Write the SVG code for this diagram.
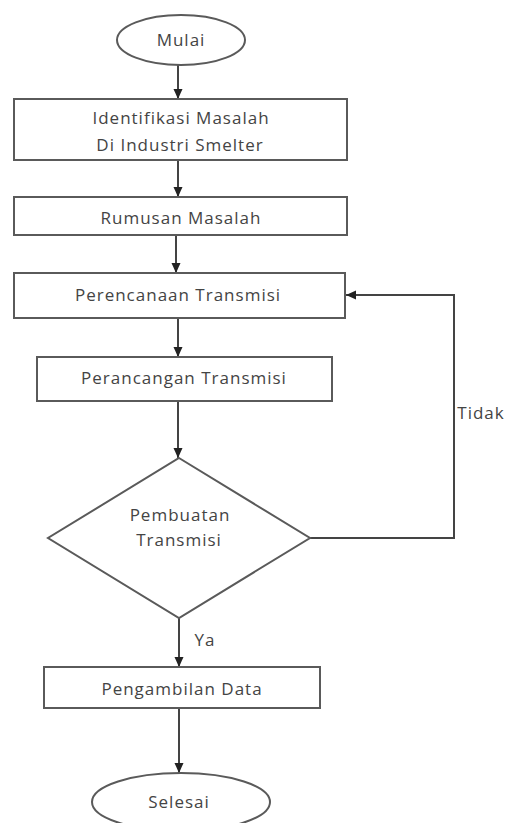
<svg xmlns="http://www.w3.org/2000/svg" width="510" height="823" viewBox="0 0 510 823">
<style>
.s{fill:#fff;stroke:#5a5a5a;stroke-width:2}
.t{font-family:"Open Sans","Liberation Sans",sans-serif;font-size:17px;letter-spacing:1px;fill:#444;text-anchor:middle}
.c{fill:none;stroke:#444;stroke-width:2}
</style>
<defs>
<marker id="ah" markerUnits="userSpaceOnUse" markerWidth="10" markerHeight="10" viewBox="0 0 10 10" refX="10" refY="5" orient="auto">
<path d="M0,0.5 L10,5 L0,9.5 Z" fill="#222"/>
</marker>
</defs>
<rect width="510" height="823" fill="#fff"/>
<g id="connectors">
<line class="c" x1="178" y1="65" x2="178" y2="99" marker-end="url(#ah)"/>
<line class="c" x1="178" y1="160" x2="178" y2="197" marker-end="url(#ah)"/>
<line class="c" x1="176" y1="235" x2="176" y2="273" marker-end="url(#ah)"/>
<line class="c" x1="178" y1="318" x2="178" y2="357" marker-end="url(#ah)"/>
<line class="c" x1="178" y1="401" x2="178" y2="458" marker-end="url(#ah)"/>
<line class="c" x1="179" y1="618" x2="179" y2="667" marker-end="url(#ah)"/>
<line class="c" x1="179" y1="708" x2="179" y2="773" marker-end="url(#ah)"/>
<polyline class="c" points="310,538 454,538 454,295 346,295" marker-end="url(#ah)"/>
<text class="t" x="481" y="419">Tidak</text>
<text class="t" x="205" y="646">Ya</text>
</g>
<g id="mulai"><ellipse class="s" cx="181" cy="40" rx="64" ry="25"/><text class="t" x="181" y="46">Mulai</text></g>
<g id="identifikasi"><rect class="s" x="14" y="99" width="333" height="61"/><text class="t" x="181" y="124">Identifikasi Masalah</text><text class="t" x="180" y="151">Di Industri Smelter</text></g>
<g id="rumusan"><rect class="s" x="14" y="197" width="333" height="38"/><text class="t" x="181" y="224">Rumusan Masalah</text></g>
<g id="perencanaan"><rect class="s" x="14" y="273" width="331" height="45"/><text class="t" x="178" y="301">Perencanaan Transmisi</text></g>
<g id="perancangan"><rect class="s" x="37" y="357" width="295" height="44"/><text class="t" x="184" y="384">Perancangan Transmisi</text></g>
<g id="pembuatan"><polygon class="s" points="179,458 310,538 179,618 48,538"/><text class="t" x="180" y="521">Pembuatan</text><text class="t" x="179" y="546">Transmisi</text></g>
<g id="pengambilan"><rect class="s" x="44" y="667" width="276" height="41"/><text class="t" x="182" y="695">Pengambilan Data</text></g>
<g id="selesai"><ellipse class="s" cx="181" cy="802" rx="89" ry="29"/><text class="t" x="179" y="808">Selesai</text></g>
</svg>
